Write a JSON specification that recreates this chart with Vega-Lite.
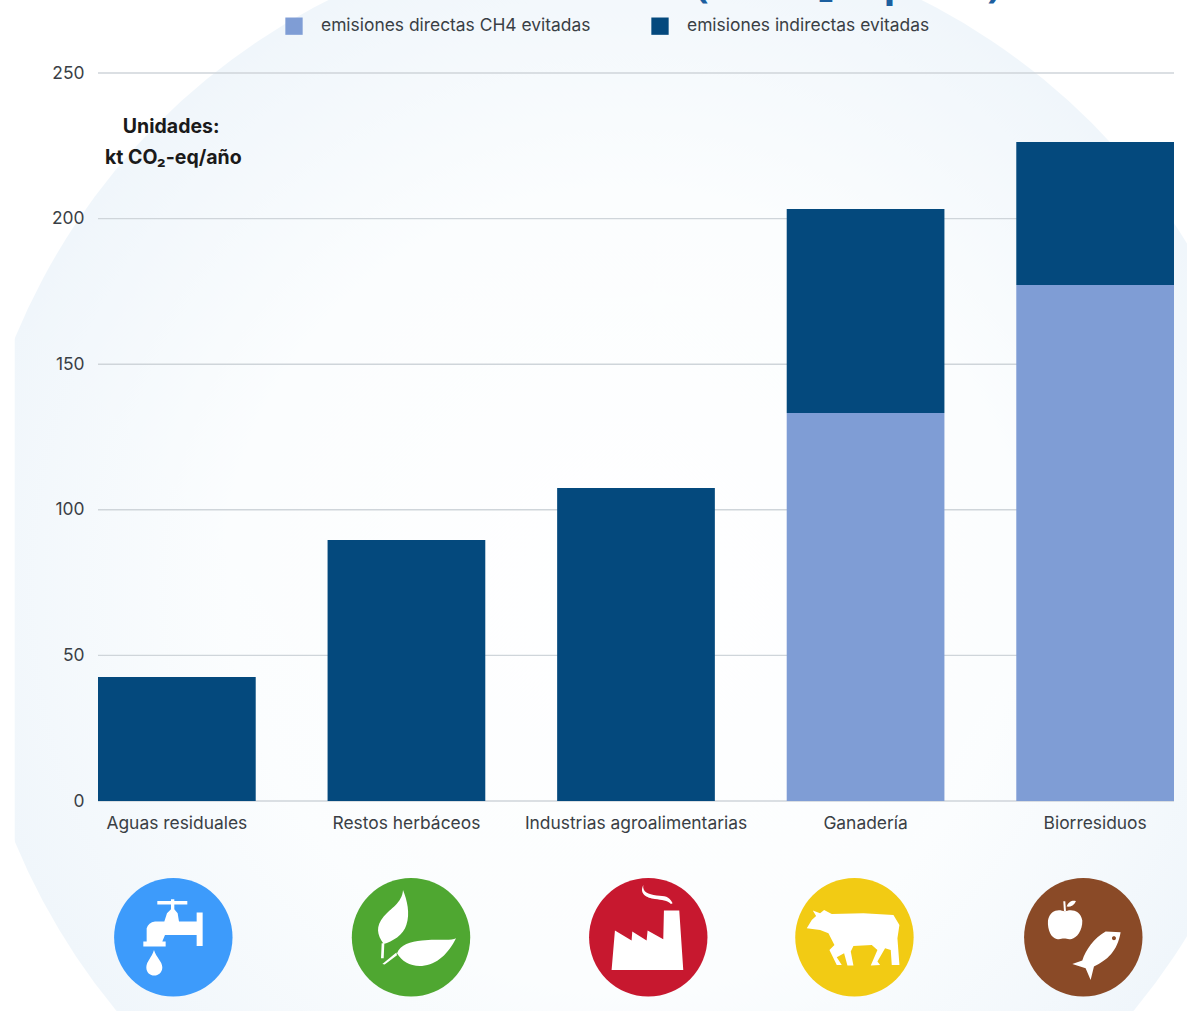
{
  "$schema": "https://vega.github.io/schema/vega-lite/v6.json",
  "autosize": "none",
  "width": 1076,
  "height": 728,
  "padding": {"left": 98, "top": 73, "right": 13, "bottom": 210},
  "background": "#ffffff",
  "config": {"view": {"stroke": null}, "font": "Inter"},
  "datasets": {
    "rejilla": [{"valor": 0}, {"valor": 50}, {"valor": 100}, {"valor": 150}, {"valor": 200}, {"valor": 250}],
    "emisiones": [
      {"sector": "Aguas residuales", "serie": "emisiones indirectas evitadas", "kt": 42.6},
      {"sector": "Restos herbáceos", "serie": "emisiones indirectas evitadas", "kt": 89.6},
      {"sector": "Industrias agroalimentarias", "serie": "emisiones indirectas evitadas", "kt": 107.5},
      {"sector": "Ganadería", "serie": "emisiones directas CH4 evitadas", "kt": 133.2},
      {"sector": "Ganadería", "serie": "emisiones indirectas evitadas", "kt": 70.1},
      {"sector": "Biorresiduos", "serie": "emisiones directas CH4 evitadas", "kt": 177.2},
      {"sector": "Biorresiduos", "serie": "emisiones indirectas evitadas", "kt": 49.1}
    ],
    "iconos": [
      {"sector": "Aguas residuales", "posicion": 7.0, "nivel": -46.8},
      {"sector": "Restos herbáceos", "posicion": 29.09, "nivel": -46.8},
      {"sector": "Industrias agroalimentarias", "posicion": 51.14, "nivel": -46.8},
      {"sector": "Ganadería", "posicion": 70.3, "nivel": -46.8},
      {"sector": "Biorresiduos", "posicion": 91.57, "nivel": -46.8}
    ],
    "rotulos": [
      {"texto": "Unidades:", "posicion": 6.8, "nivel": 231.5},
      {"texto": "kt CO₂-eq/año", "posicion": 7.0, "nivel": 220.8}
    ],
    "titulo": [{"texto": "(kt CO₂-eq/año)", "posicion": 55.5, "nivel": 276.1}],
    "fondo": [{"posicion": 48.98, "nivel": 72.5}],
    "margen": [{"desde": -9.2, "hasta": -7.74, "base": -72, "tope": 276}]
  },
  "layer": [
    {
      "data": {"name": "fondo"},
      "mark": {
        "type": "point", "filled": true, "opacity": 1, "size": 1742400, "shape": "circle",
        "fill": {
          "gradient": "radial", "x1": 0.5, "y1": 0.5, "r1": 0, "x2": 0.5, "y2": 0.5, "r2": 0.5,
          "stops": [{"offset": 0, "color": "#ffffff"}, {"offset": 0.6, "color": "#fbfdfe"}, {"offset": 1, "color": "#f0f6fb"}]
        }
      },
      "encoding": {
        "x": {"field": "posicion", "type": "quantitative", "scale": {"domain": [0, 100]}, "axis": null},
        "y": {"field": "nivel", "type": "quantitative", "scale": {"domain": [0, 250], "nice": false}, "axis": {"title": null, "values": [0, 50, 100, 150, 200, 250], "grid": false, "ticks": false, "domain": false, "labelFontSize": 17.4, "labelColor": "#3a3f45", "labelPadding": 14, "zindex": 1}}
      }
    },
    {
      "data": {"name": "margen"},
      "mark": {"type": "rect", "fill": "#ffffff"},
      "encoding": {
        "x": {"field": "desde", "type": "quantitative", "scale": {"domain": [0, 100]}, "axis": null},
        "x2": {"field": "hasta"},
        "y": {"field": "base", "type": "quantitative"},
        "y2": {"field": "tope"}
      }
    },
    {
      "data": {"name": "rejilla"},
      "mark": {"type": "rule", "color": "#cfd5da", "strokeWidth": 1.4},
      "encoding": {"y": {"field": "valor", "type": "quantitative"}}
    },
    {
      "data": {"name": "emisiones"},
      "mark": {"type": "bar"},
      "encoding": {
        "x": {
          "field": "sector", "type": "nominal",
          "sort": ["Aguas residuales", "Restos herbáceos", "Industrias agroalimentarias", "Ganadería", "Biorresiduos"],
          "scale": {"paddingInner": 0.313, "paddingOuter": 0},
          "axis": {"title": null, "labelAngle": 0, "ticks": false, "domain": false, "labelFontSize": 17.4, "labelColor": "#3a3f45", "labelPadding": 22, "labelLimit": 400, "labelBaseline": "middle", "zindex": 1}
        },
        "y": {"field": "kt", "type": "quantitative", "stack": "zero"},
        "order": {"field": "serie", "sort": "ascending"},
        "color": {
          "field": "serie", "type": "nominal",
          "scale": {"domain": ["emisiones directas CH4 evitadas", "emisiones indirectas evitadas"], "range": ["#7f9dd5", "#04497d"]},
          "legend": {
            "title": null, "orient": "none", "legendX": 187, "legendY": -56, "direction": "horizontal", "columns": 2,
            "symbolType": "square", "symbolSize": 300, "symbolStrokeWidth": 0, "labelFontSize": 17.4, "labelColor": "#3a3f45",
            "labelOffset": 18, "columnPadding": 60, "labelLimit": 400
          }
        }
      }
    },
    {
      "data": {"name": "iconos"},
      "mark": {"type": "point", "filled": true, "opacity": 1, "size": 14020, "shape": "circle"},
      "encoding": {
        "x": {"field": "posicion", "type": "quantitative", "scale": {"domain": [0, 100]}, "axis": null},
        "y": {"field": "nivel", "type": "quantitative"},
        "color": {
          "field": "sector", "type": "nominal", "legend": null,
          "scale": {
            "domain": ["Aguas residuales", "Restos herbáceos", "Industrias agroalimentarias", "Ganadería", "Biorresiduos"],
            "range": ["#3d9bfb", "#4fa731", "#c7182f", "#f2cb14", "#8a4a27"]
          }
        }
      }
    },
    {
      "data": {"name": "iconos"},
      "mark": {"type": "point", "filled": true, "opacity": 1, "size": 0.4444, "fill": "#ffffff", "stroke": null},
      "encoding": {
        "x": {"field": "posicion", "type": "quantitative", "scale": {"domain": [0, 100]}, "axis": null},
        "y": {"field": "nivel", "type": "quantitative"},
        "shape": {
          "field": "sector", "type": "nominal", "legend": null,
          "scale": {
            "domain": ["Aguas residuales", "Restos herbáceos", "Industrias agroalimentarias", "Ganadería", "Biorresiduos"],
            "range": [
              "M-48,-109 L-7,-109 -7,-114 3,-114 3,-109 42,-109 42,-98 3,-98 3,-84 13,-72 17,-47 70,-47 70,-74 88,-74 88,26 70,26 70,-7 -25,-7 -33,13 -23,13 -23,28 -90,28 -90,13 -80,13 -80,-27 Q-75,-44 -55,-47 L-27,-47 -19,-72 -7,-84 -7,-98 -48,-98 Z M-58,38 C-52,60 -33,72 -33,90 C-33,106 -45,115 -57,115 C-70,115 -81,106 -81,90 C-81,72 -64,60 -58,38 Z",
              "M-24,-142 C-12,-112 -2,-72 -14,-37 C-22,-7 -57,13 -82,20 C-102,-7 -107,-32 -82,-62 C-62,-87 -27,-102 -24,-142 Z M-88,18 L-80,18 -82,63 -90,63 Z M135,3 C118,13 73,3 33,10 C-2,13 -32,23 -42,48 C-27,73 -2,88 33,86 C78,83 113,48 135,3 Z M-44,46 L-42,54 -79,82 -86,80 Z",
              "M-110,98 L-100,-20 -50,10 -48,-17 -5,10 -2,-20 45,6 47,-80 93,-80 105,98 Z M-15,-157 C-18,-135 0,-130 25,-125 C50,-122 62,-125 73,-102 L68,-100 C58,-112 40,-112 20,-115 C-5,-118 -28,-130 -15,-157 Z",
              "M-143,-27 L-128,-52 -115,-64 -125,-80 -103,-72 -91,-82 -68,-70 27,-72 117,-67 135,-37 129,3 135,83 112,83 109,38 92,33 69,73 77,83 49,85 69,38 52,23 -3,26 -11,43 -3,85 -21,85 -31,48 -53,60 -38,83 -53,83 -75,38 -60,23 -78,-12 -103,-22 Z",
              "M-56,-77 C-70,-85 -100,-85 -106,-50 C-108,-20 -95,3 -80,5 C-70,7 -65,4 -58,4 C-50,4 -45,7 -35,5 C-20,3 -2,-20 -3,-50 C-8,-85 -42,-85 -56,-77 Z M-60,-108 L-54,-108 -52,-78 -58,-78 Z M-50,-92 C-45,-108 -30,-112 -22,-108 C-28,-95 -40,-90 -50,-92 Z M112,-15 L67,-17 C32,3 7,38 -3,70 L-33,80 7,93 22,128 32,88 C72,68 102,43 112,-15 Z M86,3 C86,-5 98,-5 98,3 C98,11 86,11 86,3 Z"
            ]
          }
        }
      }
    },
    {
      "data": {"name": "rotulos"},
      "mark": {"type": "text", "fontWeight": "bold", "fontSize": 19.5, "color": "#1a1a1a", "align": "center", "baseline": "middle"},
      "encoding": {
        "x": {"field": "posicion", "type": "quantitative", "scale": {"domain": [0, 100]}, "axis": null},
        "y": {"field": "nivel", "type": "quantitative"},
        "text": {"field": "texto", "type": "nominal"}
      }
    },
    {
      "data": {"name": "titulo"},
      "mark": {"type": "text", "fontWeight": "bold", "fontSize": 40, "color": "#1c5f9f", "align": "left", "baseline": "alphabetic", "font": "Open Sans"},
      "encoding": {
        "x": {"field": "posicion", "type": "quantitative", "scale": {"domain": [0, 100]}, "axis": null},
        "y": {"field": "nivel", "type": "quantitative"},
        "text": {"field": "texto", "type": "nominal"}
      }
    }
  ],
  "resolve": {"scale": {"x": "independent", "color": "independent"}}
}
